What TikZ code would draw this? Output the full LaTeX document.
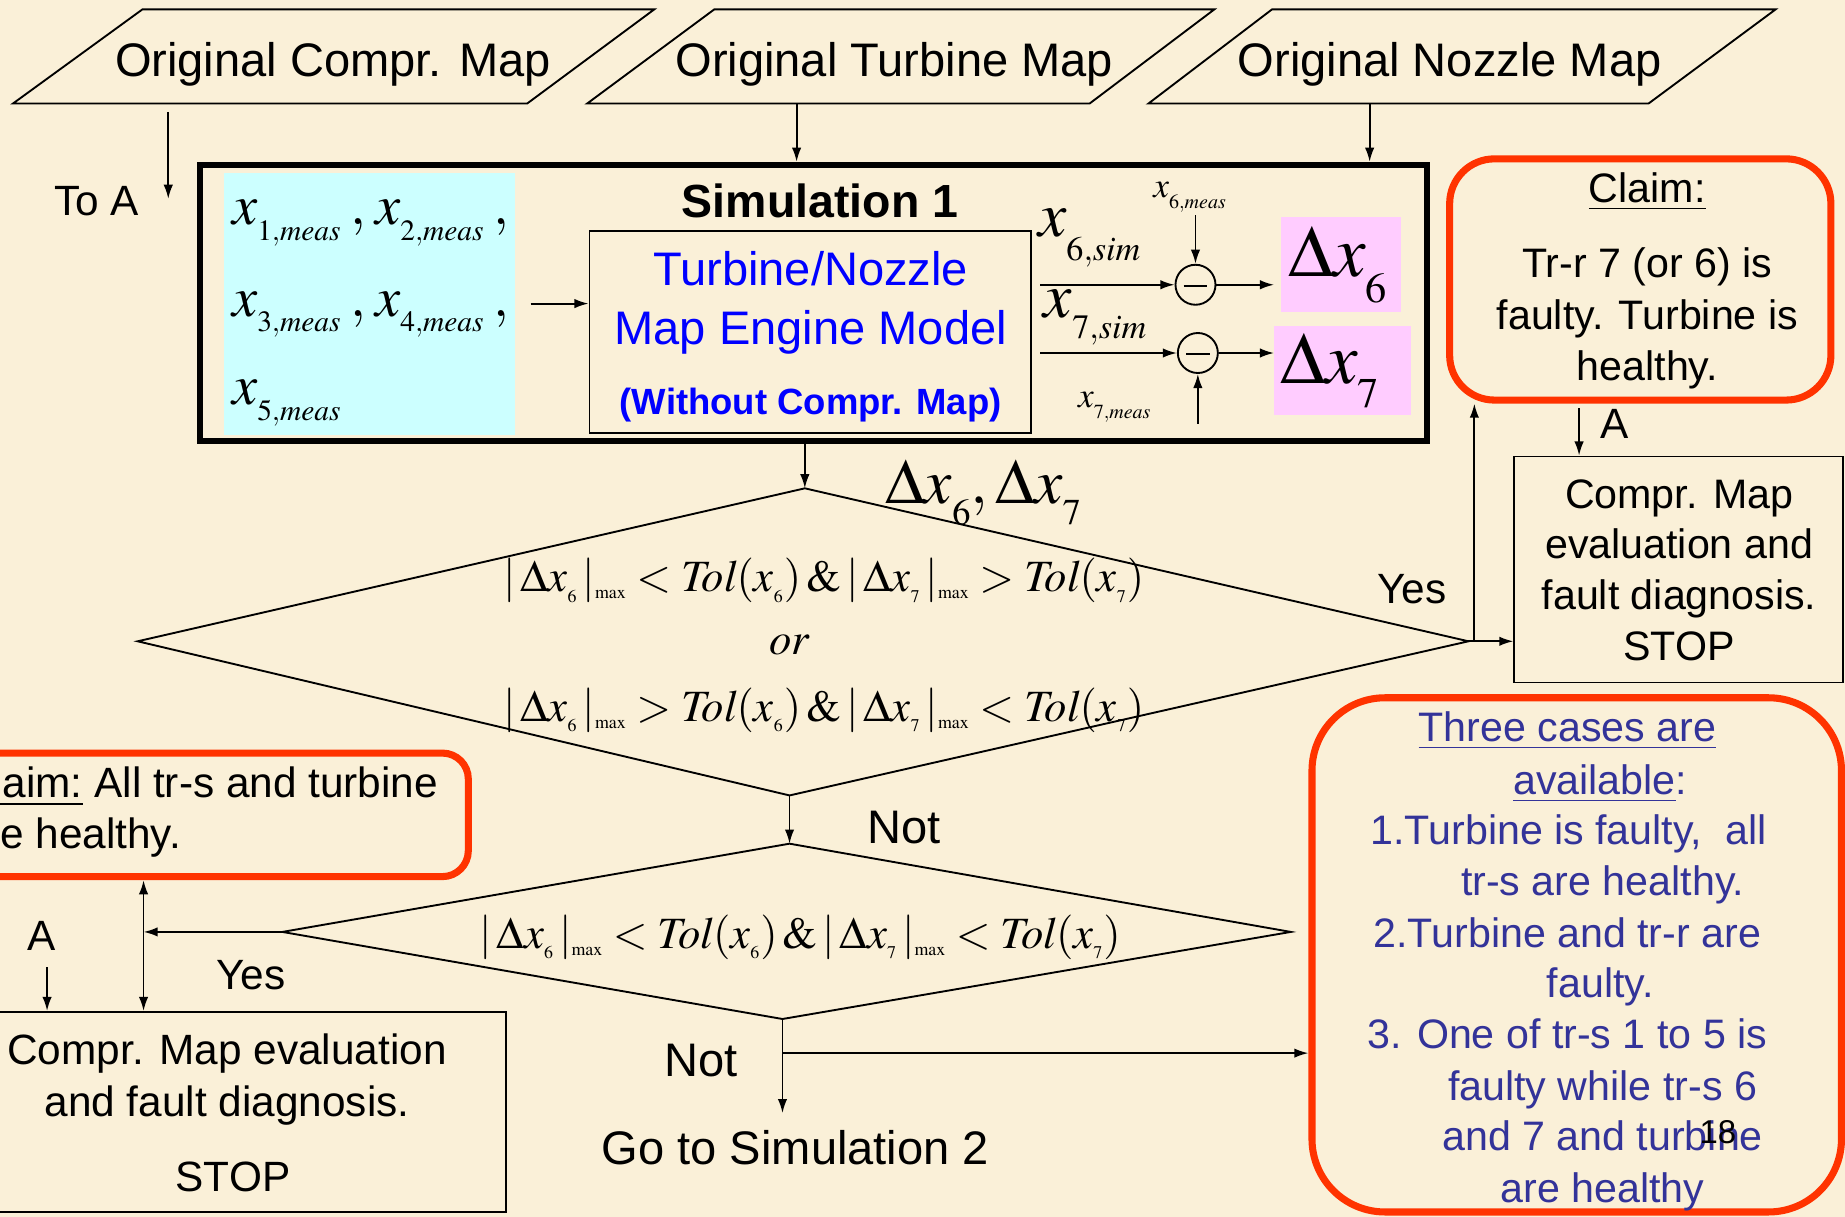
\documentclass[tikz,border=0pt]{standalone}
\usepackage{mathptmx}
\usepackage[no-math]{fontspec}
\setmainfont{Liberation Sans}
\usetikzlibrary{arrows.meta,calc}
\renewcommand\defaultscriptratio{.55}
\renewcommand\defaultscriptscriptratio{.4}
\definecolor{bgc}{HTML}{FAF0D8}
\definecolor{redc}{HTML}{FF3300}
\definecolor{cyanc}{HTML}{CCFFFF}
\definecolor{pinkc}{HTML}{FFCCFF}
\definecolor{navy}{HTML}{333399}
\definecolor{bluec}{HTML}{0000FF}
\newcommand\ssx[1]{x_{_{#1}}}
\newcommand\mx{|_{\scriptscriptstyle\max}}
% lowered subscript: size, shift, content
\newcommand\lsub[3]{\raisebox{#2}{\fontsize{#1}{#1}\selectfont$#3$}}
\begin{document}
\begin{tikzpicture}[x=1pt,y=-1pt,
  ln/.style={line width=1.6pt},
  arr/.style={line width=1.6pt,-{Latex[length=12pt,width=8pt]}},
  darr/.style={line width=1.6pt,{Latex[length=12pt,width=8pt]}-{Latex[length=12pt,width=8pt]}},
  t35/.style={font=\fontsize{35}{42}\selectfont,inner sep=0pt,anchor=base},
  t36/.style={font=\fontsize{36}{42}\selectfont,inner sep=0pt,anchor=base},
  t40/.style={font=\fontsize{40}{48}\selectfont,inner sep=0pt,anchor=base},
  redbox/.style={draw=redc,line width=6pt},
  box/.style={draw,line width=1.6pt,inner sep=0pt},
  nv/.style={t35,text=navy},
  cond/.style={font=\fontsize{38}{46}\selectfont,inner sep=0pt,anchor=base},
  mth/.style={inner sep=0pt,anchor=base west},
]
\fill[bgc] (0,0) rectangle (1568,1034);
\useasboundingbox (0,0) rectangle (1568,1034);
\clip (0,0) rectangle (1568,1034);

% ---------- top parallelograms
\draw[ln] (121,8) -- (556,8) -- (448,88) -- (11,88) -- cycle;
\draw[ln] (607,8) -- (1032,8) -- (926,88) -- (499,88) -- cycle;
\draw[ln] (1081,8) -- (1509,8) -- (1401,88) -- (976,88) -- cycle;
\node[t40] (p1) at (283,65) {Original Compr. Map};
\node[t40] (p2) at (760,65) {Original Turbine Map};
\node[t40] (p3) at (1232,65) {Original Nozzle Map};
\coordinate (p1o) at (143,95);
\coordinate (toa) at (143,169);
\coordinate (p2o) at (677,88);
\coordinate (p3o) at (1164,88);
\draw[arr] (p1o) -- (toa);
\node[t36] (toatxt) at (82,183) {To A};

% ---------- simulation box
\node[draw,line width=5pt,minimum width=1043pt,minimum height=235pt,inner sep=0pt] (sim) at (691.5,257.5) {};
\draw[arr] (p2o) -- (p2o |- sim.north);
\draw[arr] (p3o) -- (p3o |- sim.north);
\node[fill=cyanc,minimum width=248pt,minimum height=223pt,inner sep=0pt] (cy) at (314,258.5) {};
\node[mth,font=\fontsize{48}{56}\selectfont] (m12) at (197,191)
  {$x$\lsub{25pt}{-13pt}{1{,}meas}\,$,$\,$x$\lsub{25pt}{-13pt}{2{,}meas}\,$,$};
\node[mth,font=\fontsize{48}{56}\selectfont] (m34) at (197,269)
  {$x$\lsub{25pt}{-13pt}{3{,}meas}\,$,$\,$x$\lsub{25pt}{-13pt}{4{,}meas}\,$,$};
\node[mth,font=\fontsize{48}{56}\selectfont] (m5) at (197,344)
  {$x$\lsub{25pt}{-13pt}{5{,}meas}};
\node[box,minimum width=375pt,minimum height=172pt] (eng) at (688.5,282) {};
\coordinate (cyo) at (451,258);
\draw[arr] (cyo) -- (cyo -| eng.west);
\node[t40,font=\fontsize{39.5}{44}\selectfont\bfseries] (simt) at (697,185) {Simulation 1};
\node[t40,text=bluec] (e1) at (689,243) {Turbine/Nozzle};
\node[t40,text=bluec] (e2) at (689,293) {Map Engine Model};
\node[t40,font=\fontsize{31}{36}\selectfont\bfseries,text=bluec] (e3) at (689,352) {(Without Compr. Map)};

% sums
\node[circle,draw,line width=1.6pt,minimum size=34pt,inner sep=0pt] (c1) at (1016,242) {};
\node[circle,draw,line width=1.6pt,minimum size=34pt,inner sep=0pt] (c2) at (1018,300) {};
\draw[ln] ($(c1.center)+(-10,1)$) -- ($(c1.center)+(10,1)$);
\draw[ln] ($(c2.center)+(-10,1)$) -- ($(c2.center)+(10,1)$);
\coordinate (s6) at (884,242);
\coordinate (s7) at (884,300);
\draw[arr] (s6) -- (c1.west);
\draw[arr] (s7) -- (c2.west);
\node[mth,font=\fontsize{54}{60}\selectfont] (x6s) at (882,201) {$x$\lsub{29pt}{-20pt}{6{,}sim}};
\node[mth,font=\fontsize{54}{60}\selectfont] (x7s) at (887,270) {$x$\lsub{29pt}{-18pt}{7{,}sim}};
\node[mth,font=\fontsize{30}{36}\selectfont] (x6m) at (980,168) {$x$\lsub{17pt}{-9pt}{6{,}meas}};
\node[mth,font=\fontsize{30}{36}\selectfont] (x7m) at (916,346) {$x$\lsub{17pt}{-10pt}{7{,}meas}};
\coordinate (m6o) at (1016,183);
\coordinate (m7o) at (1018,360);
\draw[arr] (m6o) -- (c1.north);
\draw[arr] (m7o) -- (c2.south);
\node[fill=pinkc,minimum width=102pt,minimum height=81pt,inner sep=0pt] (pk1) at (1140,224.5) {};
\node[fill=pinkc,minimum width=116pt,minimum height=76pt,inner sep=0pt] (pk2) at (1141,315) {};
\node[mth,font=\fontsize{62}{70}\selectfont] (d6) at (1095,235) {$\Delta x$\lsub{36pt}{-22pt}{6}};
\node[mth,font=\fontsize{62}{70}\selectfont] (d7) at (1088,326) {$\Delta x$\lsub{36pt}{-20pt}{7}};
\draw[arr] (c1.east) -- (c1.east -| pk2.west);
\draw[arr] (c2.east) -- (pk2.west |- c2.east);

% ---------- decision 1
\coordinate (d1t) at (684,415);
\coordinate (d1l) at (117,545);
\coordinate (d1r) at (1248,545);
\coordinate (d1b) at (671,676);
\draw[ln] (d1t) -- (d1r) -- (d1b) -- (d1l) -- cycle;
\draw[arr] (sim.south -| d1t) -- (d1t);
\node[mth,font=\fontsize{54}{60}\selectfont] (dd) at (752,428)
  {$\Delta x$\lsub{31pt}{-18pt}{6}$,\Delta x$\lsub{31pt}{-18pt}{7}};
\node[cond] (q1) at (700,503) {$|\,\Delta\ssx6\,\mx<\mathit{Tol}(\ssx6)\,\&\,|\,\Delta\ssx7\,\mx>\mathit{Tol}(\ssx7)$};
\node[cond] (qor) at (671,556) {$\mathit{or}$};
\node[cond] (q2) at (700,613) {$|\,\Delta\ssx6\,\mx>\mathit{Tol}(\ssx6)\,\&\,|\,\Delta\ssx7\,\mx<\mathit{Tol}(\ssx7)$};
\node[t36] (yes1) at (1200,513) {Yes};

% ---------- right claim + box
\node[redbox,rounded corners=38pt,minimum width=324pt,minimum height=205pt,inner sep=0pt] (cl1) at (1394,237.5) {};
\node[t35] (cl1a) at (1400,172) {\underline{Claim:}};
\node[t35] (cl1b) at (1400,236) {Tr-r 7 (or 6) is};
\node[t35] (cl1c) at (1400,280) {faulty. Turbine is};
\node[t35] (cl1d) at (1400,323) {healthy.};
\node[box,minimum width=279pt,minimum height=192pt] (cb) at (1426.5,484) {};
\node[t35] (cb1) at (1427,432) {Compr. Map};
\node[t35] (cb2) at (1427,475) {evaluation and};
\node[t35] (cb3) at (1427,518) {fault diagnosis.};
\node[t35] (cb4) at (1427,561) {STOP};
\draw[arr] (d1r) -- (d1r -| cb.west);
\coordinate (yj) at (1253,545);
\draw[arr] (yj) -- (yj |- cl1.south);
\coordinate (ar) at (1342,347);
\draw[arr] (ar) -- (ar |- cb.north);
\node[t36] (atr) at (1372,373) {A};

% ---------- decision 2
\coordinate (d2t) at (671,717);
\coordinate (d2l) at (240,792);
\coordinate (d2r) at (1097,792);
\coordinate (d2b) at (665,866);
\draw[ln] (d2t) -- (d2r) -- (d2b) -- (d2l) -- cycle;
\draw[arr] (d1b) -- (d2t);
\node[t40] (not1) at (768,717) {Not};
\node[cond] (q3) at (680,806) {$|\,\Delta\ssx6\,\mx<\mathit{Tol}(\ssx6)\,\&\,|\,\Delta\ssx7\,\mx<\mathit{Tol}(\ssx7)$};

% ---------- left claim + box
\node[redbox,rounded corners=22pt,minimum width=438pt,minimum height=105pt,inner sep=0pt] (cl2) at (179,692.5) {};
\node[t36,anchor=base west] (cl2a) at (-32,678) {\underline{Claim:} All tr-s and turbine};
\node[t36,anchor=base west] (cl2b) at (-32,721) {are healthy.};
\node[box,minimum width=435pt,minimum height=170pt] (lb) at (212.5,945) {};
\node[t36] (lb1) at (193,905) {Compr. Map evaluation};
\node[t36] (lb2) at (193,949) {and fault diagnosis.};
\node[t36] (lb3) at (198,1013) {STOP};
\coordinate (vj) at (122,792);
\draw[arr] (d2l) -- (vj);
\draw[darr] (vj |- cl2.south) -- (vj |- lb.north);
\node[t36] (yes2) at (213,841) {Yes};
\node[t36] (al) at (35,808) {A};
\coordinate (alo) at (40,822);
\draw[arr] (alo) -- (alo |- lb.north);

% ---------- bottom
\coordinate (got) at (665,946);
\draw[arr] (d2b) -- (got);
\node[t40] (not2) at (596,915) {Not};
\node[t40] (go) at (676,990) {Go to Simulation 2};
\node[redbox,rounded corners=62pt,minimum width=450pt,minimum height=437pt,inner sep=0pt] (r3) at (1340,811.5) {};
\coordinate (nj) at (665,895);
\draw[arr] (nj) -- (nj -| r3.west);
\node[nv] (r3a) at (1332,630) {\underline{Three cases are}};
\node[nv] (r3b) at (1360,675) {\underline{available}:};
\node[nv] (r3c) at (1333,718) {1.Turbine is faulty,\ \ all};
\node[nv] (r3d) at (1362,761) {tr-s are healthy.};
\node[nv] (r3e) at (1332,805) {2.Turbine and tr-r are};
\node[nv] (r3f) at (1360,848) {faulty.};
\node[nv] (r3g) at (1332,891) {3. One of tr-s 1 to 5 is};
\node[nv] (r3h) at (1362,935) {faulty while tr-s 6};
\node[nv] (r3i) at (1362,978) {and 7 and turbine};
\node[nv] (r3j) at (1362,1022) {are healthy};
\node[font=\fontsize{28}{32}\selectfont,inner sep=0pt,anchor=base] (pg) at (1460,972) {18};
\end{tikzpicture}
\end{document}
